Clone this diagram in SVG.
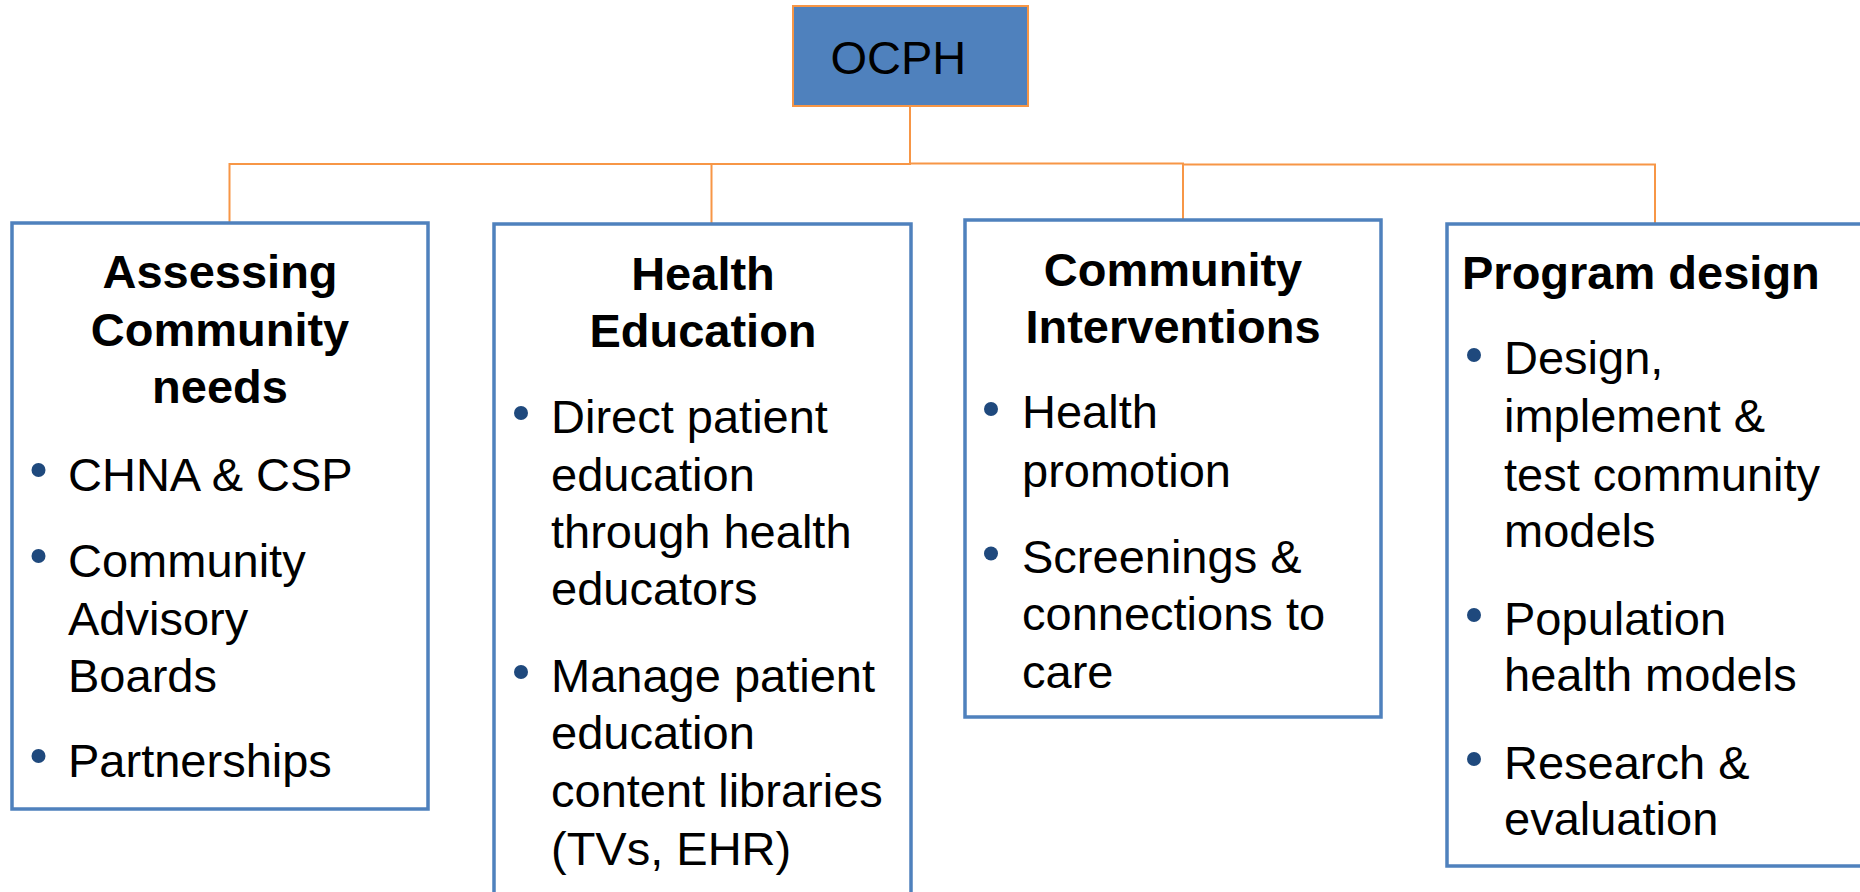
<svg xmlns="http://www.w3.org/2000/svg" width="1860" height="892" viewBox="0 0 1860 892">
<style>
.box{fill:#FFFFFF;stroke:#4F81BD;stroke-width:3.5}
.root{fill:#4F81BD;stroke:#F79646;stroke-width:2}
.con{fill:none;stroke:#F79646;stroke-width:2}
.t{font-family:"Liberation Sans",Arial,sans-serif;font-size:47px;fill:#000000}
.h{font-weight:bold;text-anchor:middle}
.dot{fill:#1F497D}
</style>
<rect width="1860" height="892" fill="#FFFFFF"/>
<g id="connectors">
<path class="con" d="M910,106 V164 H229.5 V223"/>
<path class="con" d="M910,164 H711.5 V224"/>
<path class="con" d="M910,106 V163.5 H1183 V220"/>
<path class="con" d="M1183,164.5 H1655 V224"/>
</g>
<g id="ocph">
<rect class="root" x="793" y="6" width="235" height="100"/>
<text class="t" x="830.5" y="74">OCPH</text>
</g>
<g id="assessing">
<rect class="box" x="12" y="223" width="416" height="586"/>
<text class="t h" x="220" y="288">Assessing</text>
<text class="t h" x="220" y="346">Community</text>
<text class="t h" x="220" y="403">needs</text>
<circle class="dot" cx="38.5" cy="470" r="7"/>
<text class="t" x="68" y="491">CHNA &amp; CSP</text>
<circle class="dot" cx="38.5" cy="556" r="7"/>
<text class="t" x="68" y="577">Community</text>
<text class="t" x="68" y="634.5">Advisory</text>
<text class="t" x="68" y="692">Boards</text>
<circle class="dot" cx="38.5" cy="756" r="7"/>
<text class="t" x="68" y="777">Partnerships</text>
</g>
<g id="health-education">
<rect class="box" x="494" y="224" width="417" height="700"/>
<text class="t h" x="703" y="290">Health</text>
<text class="t h" x="703" y="347">Education</text>
<circle class="dot" cx="521" cy="413" r="7"/>
<text class="t" x="551" y="433">Direct patient</text>
<text class="t" x="551" y="491">education</text>
<text class="t" x="551" y="548">through health</text>
<text class="t" x="551" y="605">educators</text>
<circle class="dot" cx="521" cy="672" r="7"/>
<text class="t" x="551" y="692">Manage patient</text>
<text class="t" x="551" y="749">education</text>
<text class="t" x="551" y="807">content libraries</text>
<text class="t" x="551" y="865">(TVs, EHR)</text>
</g>
<g id="community-interventions">
<rect class="box" x="965" y="220" width="416" height="497"/>
<text class="t h" x="1173" y="286">Community</text>
<text class="t h" x="1173" y="343">Interventions</text>
<circle class="dot" cx="991" cy="409" r="7"/>
<text class="t" x="1022" y="428">Health</text>
<text class="t" x="1022" y="487">promotion</text>
<circle class="dot" cx="991" cy="553.5" r="7"/>
<text class="t" x="1022" y="573">Screenings &amp;</text>
<text class="t" x="1022" y="630">connections to</text>
<text class="t" x="1022" y="688">care</text>
</g>
<g id="program-design">
<rect class="box" x="1447" y="224" width="417" height="642"/>
<text class="t" x="1462" y="289" font-weight="bold">Program design</text>
<circle class="dot" cx="1474" cy="355" r="7"/>
<text class="t" x="1504" y="374">Design,</text>
<text class="t" x="1504" y="432">implement &amp;</text>
<text class="t" x="1504" y="491">test community</text>
<text class="t" x="1504" y="547">models</text>
<circle class="dot" cx="1474" cy="615" r="7"/>
<text class="t" x="1504" y="635">Population</text>
<text class="t" x="1504" y="691">health models</text>
<circle class="dot" cx="1474" cy="759" r="7"/>
<text class="t" x="1504" y="779">Research &amp;</text>
<text class="t" x="1504" y="835">evaluation</text>
</g>
</svg>
